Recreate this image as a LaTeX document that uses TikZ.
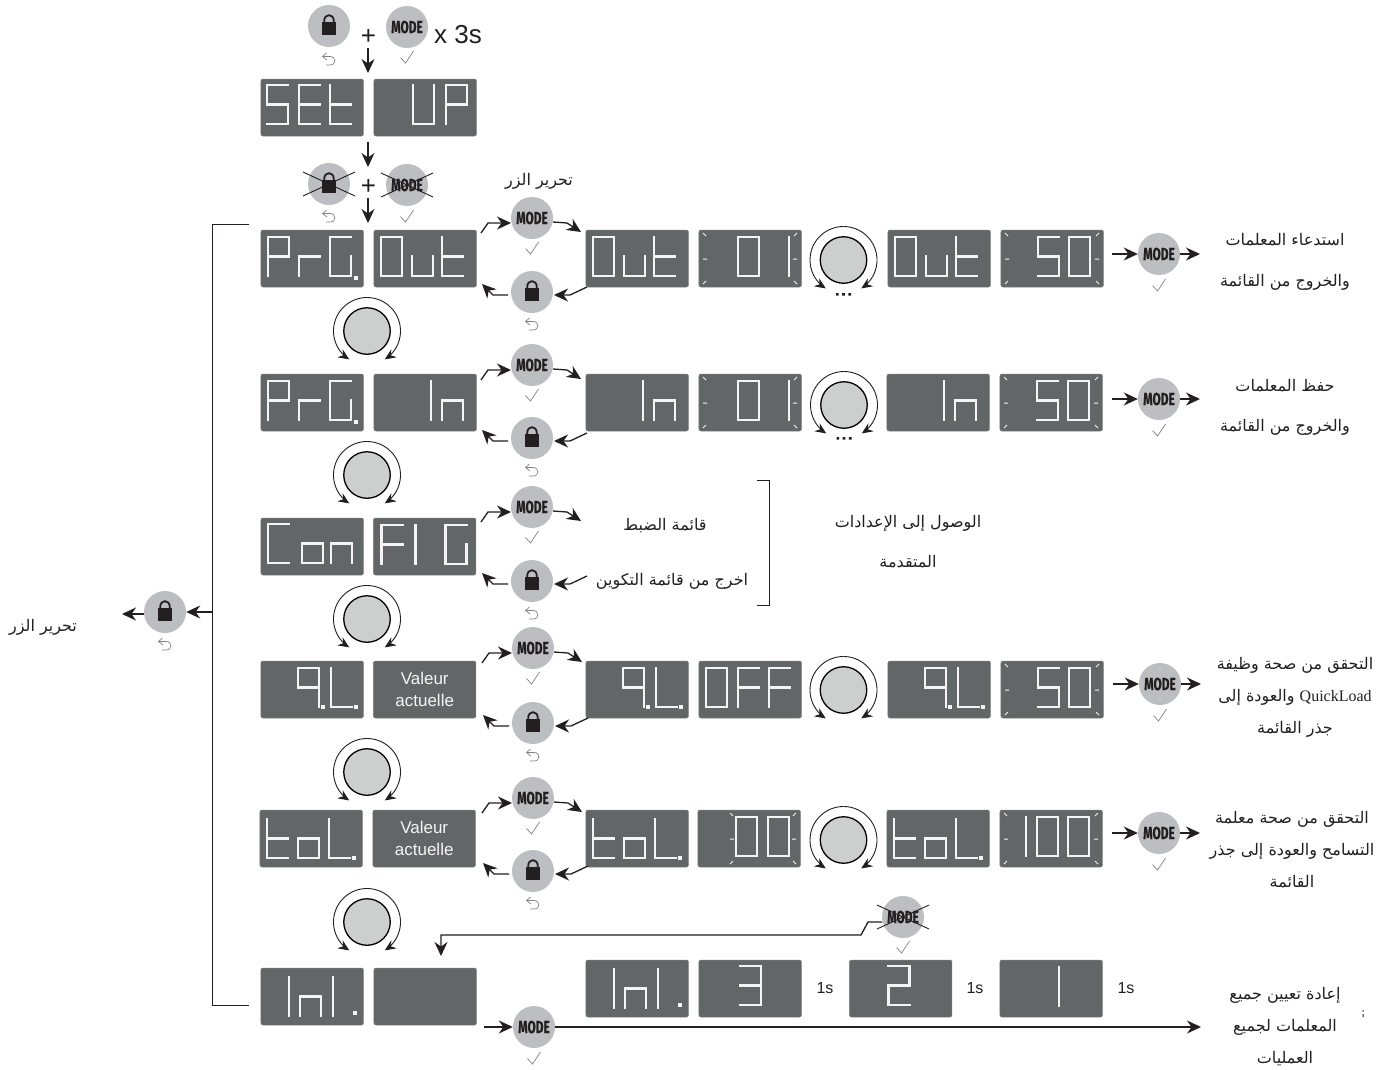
\documentclass[tikz,border=0pt]{standalone}
\usepackage{fontspec}
\usetikzlibrary{arrows.meta,calc}
\TeXXeTstate=1
\setmainfont{Liberation Sans}
\newfontfamily\arabicfont[Script=Arabic]{DejaVu Sans}
\newfontfamily\latinserif{Liberation Serif}
\newfontfamily\modefont[FakeStretch=0.68,FakeBold=0.6]{Fira Sans}
\definecolor{panelgray}{HTML}{636666}
\definecolor{btngray}{HTML}{BDBEC1}
\definecolor{knobgray}{HTML}{CDCFCE}
\definecolor{ink}{HTML}{231F20}
\definecolor{icongray}{HTML}{808285}
\definecolor{segwhite}{HTML}{F4F4F4}
\tikzset{
  x=1pt,y=-1pt,
  panelbox/.style={rectangle,rounded corners=2pt,fill=panelgray,draw=panelgray!85!white,line width=.5pt,minimum width=102.5pt,minimum height=57pt,inner sep=0pt},
  btn/.style={circle,fill=btngray,minimum size=42pt,inner sep=0pt,text=ink},
  modebtn/.style={btn,font={\modefont\bfseries\fontsize{17.5}{17.5}\selectfont}},
  lockbtn/.style={btn,path picture={
     \fill[ink,shift={(path picture bounding box.center)}] (-7,-4) rectangle (7,9);
     \draw[ink,line width=1.8pt,shift={(path picture bounding box.center)}] (-4.8,-3) -- (-4.8,-5) .. controls (-4.8,-12.8) and (4.8,-12.8) .. (4.8,-5) -- (4.8,-3);
  }},
  knobbtn/.style={circle,fill=knobgray,draw=black,line width=1.3pt,minimum size=46.5pt,inner sep=0pt},
  arr/.style={ink,line width=1.3pt,-{Stealth[length=14pt,width=13pt]}},
  knobarr/.style={ink,line width=.9pt,-{Stealth[length=11pt,width=9.5pt]}},
  plainline/.style={ink,line width=1pt},
  crossline/.style={ink,line width=.9pt},
  seg/.style={segwhite,line width=2.4pt,line cap=rect},
  tick/.style={segwhite,line width=1pt},
  arlabel/.style={align=center,text=ink,inner sep=0pt,font={\arabicfont\fontsize{16}{#1}\selectfont}},
  sanslabel/.style={text=ink,inner sep=0pt,font={\fontsize{#1}{#1}\selectfont}},
}
% seven segment pieces
\def\dgw{21}\def\dgh{39}
\def\segpart#1#2#3#4#5#6{\draw[seg] (#1+#3*\dgw,#2+#4*\dgh) -- (#1+#5*\dgw,#2+#6*\dgh);}
\def\sega#1#2{\segpart{#1}{#2}{0}{0}{1}{0}}
\def\segb#1#2{\segpart{#1}{#2}{1}{0}{1}{.5}}
\def\segc#1#2{\segpart{#1}{#2}{1}{.5}{1}{1}}
\def\segd#1#2{\segpart{#1}{#2}{0}{1}{1}{1}}
\def\sege#1#2{\segpart{#1}{#2}{0}{.5}{0}{1}}
\def\segf#1#2{\segpart{#1}{#2}{0}{0}{0}{.5}}
\def\segg#1#2{\segpart{#1}{#2}{0}{.5}{1}{.5}}
\newcommand\dg[3]{\foreach \sgn in {#3}{\csname seg\sgn\endcsname{#1}{#2}}}
\newcommand\dotmark[2]{\fill[segwhite] (#1,#2) rectangle (#1+3.6,#2+3.6);}
\newcommand\panel[3]{\node[panelbox] (#1) at (#2+51.2,#3+28.5) {};}
% words: arguments are the panel's left and top
\newcommand\wSEt[2]{\dg{#1+6}{#2+6}{a,f,g,c,d}\dg{#1+38}{#2+6}{a,f,g,e,d}\dg{#1+69}{#2+6}{f,e,d,g}}
\newcommand\wUP[2]{\dg{#1+39}{#2+6}{f,e,d,c,b}\dg{#1+72}{#2+6}{a,b,f,g,e}}
\newcommand\wPrG[2]{\dg{#1+7}{#2+7}{a,b,f,g,e}\dg{#1+38}{#2+7}{e,g}\dg{#1+69}{#2+7}{a,f,e,d,c}\dotmark{#1+93}{#2+46}}
\newcommand\wOut[2]{\dg{#1+7}{#2+7}{a,b,c,d,e,f}\dg{#1+38}{#2+7}{c,d,e}\dg{#1+68}{#2+7}{f,e,d,g}}
\newcommand\wIn[2]{\dg{#1+36}{#2+7}{b,c}\dg{#1+68}{#2+7}{e,g,c}}
\newcommand\wZeroOne[2]{\dg{#1+39}{#2+7}{a,b,c,d,e,f}\dg{#1+69}{#2+7}{b,c}}
\newcommand\wFifty[2]{\dg{#1+37}{#2+7}{a,f,g,c,d}\dg{#1+68}{#2+7}{a,b,c,d,e,f}}
\newcommand\wCon[2]{\dg{#1+7}{#2+6}{a,f,e,d}\dg{#1+41}{#2+6}{g,c,d,e}\dg{#1+70}{#2+6}{e,g,c}}
\newcommand\wFIG[2]{\dg{#1+8}{#2+7}{a,f,g,e}\dg{#1+21}{#2+7}{b,c}\dg{#1+72}{#2+7}{a,f,e,d,c}}
\newcommand\wNineL[2]{\dg{#1+37}{#2+7}{a,b,f,g,c}\dotmark{#1+60}{#2+44}\dg{#1+70}{#2+7}{f,e,d}\dotmark{#1+93}{#2+44}}
\newcommand\wOFF[2]{\dg{#1+7}{#2+7}{a,b,c,d,e,f}\dg{#1+39}{#2+7}{a,f,g,e}\dg{#1+70}{#2+7}{a,f,g,e}}
\newcommand\wtoL[2]{\dg{#1+7}{#2+9}{f,e,d,g}\dg{#1+38}{#2+9}{g,c,d,e}\dg{#1+69}{#2+9}{f,e,d}\dotmark{#1+92}{#2+46}}
\newcommand\wZZ[2]{\dg{#1+38}{#2+7}{a,b,c,d,e,f}\dg{#1+70}{#2+7}{a,b,c,d,e,f}}
\newcommand\wHundred[2]{\dg{#1+5}{#2+7}{b,c}\dg{#1+37}{#2+7}{a,b,c,d,e,f}\dg{#1+68}{#2+7}{a,b,c,d,e,f}}
\newcommand\wInl[2]{\dg{#1+7}{#2+9}{b,c}\dg{#1+39}{#2+9}{e,g,c}\dg{#1+72}{#2+9}{f,e}\dotmark{#1+92}{#2+43}}
\newcommand\halo[3]{%
  \draw[tick] (#1+4,#3+3)--(#1+7,#3+6) (#1+4,#3+29)--(#1+8,#3+29) (#1+4,#3+54)--(#1+7,#3+51);
  \draw[tick] (#2-4,#3+3)--(#2-7,#3+6) (#2-4,#3+29)--(#2-8,#3+29) (#2-4,#3+54)--(#2-7,#3+51);}
% icons under the buttons
\newcommand\checkicon[2]{\draw[icongray,line width=.7pt,shift={(#1,#2)}] (-6.5,.5) -- (-1.5,6) -- (6.5,-6);}
\newcommand\undoicon[2]{\draw[icongray,line width=.7pt,shift={(#1,#2)}] (-2.5,-6) -- (-6.5,-2.5) -- (-2,1) (-6.5,-2.5) -- (1,-2.5) .. controls (7.5,-2.5) and (7.5,6) .. (1,6) -- (-3,6);}
% knob with two arcs
\newcommand\knob[3]{%
  \node[knobbtn] (#1) at (#2,#3) {};
  \draw[knobarr] plot[domain=270:122,samples=30,smooth] ({#2+33.5*cos(\x)},{#3+33.5*sin(\x)});
  \draw[knobarr] plot[domain=-90:58,samples=30,smooth] ({#2+33.5*cos(\x)},{#3+33.5*sin(\x)});}
\newcommand\kdots[2]{\fill[ink] (#1-7.5,#2) rectangle ++(2.6,2.6) (#1-1.3,#2) rectangle ++(2.6,2.6) (#1+4.9,#2) rectangle ++(2.6,2.6);}
% mode + lock pair between panels
\newcommand\sidepair[4]{%
  \node[modebtn] (#1) at (#3,#4) {MODE};
  \checkicon{#3}{#4+30}}
\newcommand\sidelock[3]{%
  \node[lockbtn] (#1) at (#2,#3) {};
  \undoicon{#2}{#3+32}}
\newcommand\modeflow[1]{%
  \draw[arr] ([shift={(-51,15)}]#1.center) -- ([shift={(-44,5)}]#1.center) -- ([shift={(-21,5)}]#1.center);
  \draw[arr] ([shift={(21,4)}]#1.center) -- ([shift={(35,5)}]#1.center) -- ([shift={(49,14)}]#1.center);}
\newcommand\lockflow[1]{%
  \draw[arr] ([shift={(55,-5)}]#1.center) -- ([shift={(38,3)}]#1.center) -- ([shift={(22,3)}]#1.center);
  \draw[arr] ([shift={(-24,3)}]#1.center) -- ([shift={(-39,3)}]#1.center) -- ([shift={(-50,-8)}]#1.center);}
\newcommand\tailmode[4]{% name, x, y, panel
  \node[modebtn] (#1) at (#2,#3) {MODE};
  \checkicon{#2}{#3+31}
  \coordinate (#1in) at (#2-47,#3);
  \coordinate (#1out) at (#2+41,#3);
  \draw[arr] (#1in) -- (#1.west);
  \draw[arr] (#1.east) -- (#1out);}
\newcommand\ar[1]{\beginR #1\endR}
\begin{document}
\begin{tikzpicture}
\useasboundingbox (0,0) rectangle (1395,1069);
\fill[white] (0,0) rectangle (1395,1069);

% --- top
\node[lockbtn] (topL) at (329,26) {}; \undoicon{329}{59}
\node[modebtn] (topM) at (407,27) {MODE}; \checkicon{407}{57}
\node[sanslabel=26] (plusA) at (368.5,36.5) {+};
\node[sanslabel=26] (threeS) at (458,35) {x 3s};
\coordinate (a0s) at (368,48); \coordinate (a0e) at (368,73);
\draw[arr] (a0s) -- (a0e);

\panel{pSet}{261}{79} \panel{pUp}{374}{79}
\wSEt{261}{79} \wUP{374}{79}

\coordinate (a1s) at (368,142); \coordinate (a1e) at (368,167);
\draw[arr] (a1s) -- (a1e);

\node[lockbtn] (xL) at (329,184) {}; \undoicon{329}{216}
\node[modebtn] (xM) at (407,185) {MODE}; \checkicon{407}{216}
\draw[crossline] ([shift={(-26,12)}]xL.center) -- ([shift={(26,-12)}]xL.center);
\draw[crossline] ([shift={(-26,-12)}]xL.center) -- ([shift={(26,12)}]xL.center);
\draw[crossline] ([shift={(-26,12)}]xM.center) -- ([shift={(26,-12)}]xM.center);
\draw[crossline] ([shift={(-26,-12)}]xM.center) -- ([shift={(26,12)}]xM.center);
\node[sanslabel=26] (plusB) at (368.5,186.5) {+};
\coordinate (a2s) at (368,198); \coordinate (a2e) at (368,223);
\draw[arr] (a2s) -- (a2e);
\node[arlabel=16] (relTop) at (539,181) {\ar{تحرير الزر}};

% --- row 1 PrG Out
\panel{r1a}{261}{230} \panel{r1b}{374}{230} \panel{r1c}{586}{230} \panel{r1d}{699}{230} \panel{r1e}{888}{230} \panel{r1f}{1001}{230}
\wPrG{261}{230} \wOut{374}{230} \wOut{586}{230} \wZeroOne{699}{230} \wOut{888}{230} \wFifty{1001}{230}
\halo{699}{801}{230} \halo{1001}{1103}{230}
\sidepair{r1m}{}{532}{218} \sidelock{r1l}{532}{292}
\modeflow{r1m} \lockflow{r1l}
\knob{r1k}{843.5}{260}\kdots{843.5}{293}
\tailmode{r1x}{1159}{254}{r1f}
\node[arlabel=41] (r1t) at (1285,262) {\ar{استدعاء المعلمات}\\\ar{والخروج من القائمة}};

\knob{k1}{367}{331}

% --- row 2 PrG In
\panel{r2a}{261}{374} \panel{r2b}{374}{374} \panel{r2c}{586}{374} \panel{r2d}{699}{374} \panel{r2e}{887}{374} \panel{r2f}{1000}{374}
\wPrG{261}{374} \wIn{374}{374} \wIn{586}{374} \wZeroOne{699}{374} \wIn{887}{374} \wFifty{1000}{374}
\halo{699}{801}{374} \halo{1000}{1102}{374}
\sidepair{r2m}{}{532}{365} \sidelock{r2l}{532}{438}
\modeflow{r2m} \lockflow{r2l}
\knob{r2k}{844}{405}\kdots{844}{437}
\tailmode{r2x}{1159}{399}{r2f}
\node[arlabel=40] (r2t) at (1285,407) {\ar{حفظ المعلمات}\\\ar{والخروج من القائمة}};

\knob{k2}{367}{475}

% --- row 3 Con FIG
\panel{r3a}{261}{518} \panel{r3b}{373.5}{518}
\wCon{261}{518} \wFIG{373.5}{518}
\sidepair{r3m}{}{532}{507} \sidelock{r3l}{532}{581}
\modeflow{r3m} \lockflow{r3l}
\node[arlabel=16] (r3t1) at (665,526) {\ar{قائمة الضبط}};
\node[arlabel=16] (r3t2) at (672,581) {\ar{اخرج من قائمة التكوين}};
\coordinate (br1) at (757,480); \coordinate (br2) at (769,480); \coordinate (br3) at (769,605); \coordinate (br4) at (757,605);
\draw[plainline] (br1) -- (br2) -- (br3) -- (br4);
\node[arlabel=40] (r3t3) at (908,542) {\ar{الوصول إلى الإعدادات}\\\ar{المتقدمة}};

\knob{k3}{367}{619}

% --- row 4 9L
\panel{r4a}{261}{661} \panel{r4b}{373.5}{661} \panel{r4c}{586}{661} \panel{r4d}{699}{661} \panel{r4e}{888}{661} \panel{r4f}{1001}{661}
\wNineL{261}{661} \wNineL{586}{661} \wOFF{699}{661} \wNineL{888}{661} \wFifty{1001}{661}
\halo{1001}{1103}{661}
\node[align=center,text=segwhite,inner sep=0pt,font={\fontsize{17}{22}\selectfont}] (r4v) at (r4b) {Valeur\\actuelle};
\sidepair{r4m}{}{533}{648} \sidelock{r4l}{533}{723}
\modeflow{r4m} \lockflow{r4l}
\knob{r4k}{843.5}{690}
\tailmode{r4x}{1160}{684}{r4f}
\node[arlabel=32] (r4t) at (1295,697) {\ar{التحقق من صحة وظيفة}\\\ar{\beginL{\latinserif QuickLoad}\endL{} والعودة إلى}\\\ar{جذر القائمة}};

\knob{k4}{367}{772}

% --- row 5 toL
\panel{r5a}{260}{810} \panel{r5b}{373}{810} \panel{r5c}{586}{810} \panel{r5d}{698}{810} \panel{r5e}{887}{810} \panel{r5f}{1000}{810}
\wtoL{260}{810} \wtoL{586}{810} \wZZ{698}{810} \wtoL{887}{810} \wHundred{1000}{810}
\halo{698+28}{800}{810} \halo{1000}{1102}{810}
\node[align=center,text=segwhite,inner sep=0pt,font={\fontsize{17}{22}\selectfont}] (r5v) at (r5b) {Valeur\\actuelle};
\sidepair{r5m}{}{533}{798} \sidelock{r5l}{533}{871}
\modeflow{r5m} \lockflow{r5l}
\knob{r5k}{843.5}{840}
\tailmode{r5x}{1159}{833}{r5f}
\node[arlabel=32] (r5t) at (1292,850) {\ar{التحقق من صحة معلمة}\\\ar{التسامح والعودة إلى جذر}\\\ar{القائمة}};

\knob{k5}{367}{922}

% --- row 6 Inl
\panel{r6a}{261}{968} \panel{r6b}{374}{968}
\wInl{261}{968}
\panel{r6c}{586}{960} \panel{r6d}{699}{960} \panel{r6e}{849.5}{960} \panel{r6f}{1000}{960}
\wInl{586}{960}
\dg{699+41}{960+6}{a,b,g,c,d}
\dg{849.5+39}{960+6}{a,b,g,e,d}
\dg{1000+38}{960+7}{b,c}
\node[sanslabel=16] (s1) at (825,988) {1s};
\node[sanslabel=16] (s2) at (975,988) {1s};
\node[sanslabel=16] (s3) at (1126,988) {1s};

\node[modebtn] (crossM) at (903,917) {MODE}; \checkicon{903}{947}
\draw[crossline] ([shift={(-26,12)}]crossM.center) -- ([shift={(26,-12)}]crossM.center);
\draw[crossline] ([shift={(-26,-12)}]crossM.center) -- ([shift={(26,12)}]crossM.center);
\coordinate (bk1) at (868,922); \coordinate (bk2) at (861,935); \coordinate (bk3) at (441,935); \coordinate (bk4) at (441,956);
\draw[arr] ([shift={(-21,5)}]crossM.center) -- (bk1) -- (bk2) -- (bk3) -- (bk4);

\node[modebtn] (botM) at (534,1027) {MODE}; \checkicon{534}{1058}
\coordinate (bi) at (484,1027); \coordinate (bo) at (1201,1027);
\draw[arr] (bi) -- (botM.west);
\draw[arr] (botM.east) -- (bo);
\node[arlabel=32] (r6t) at (1285,1027) {\ar{إعادة تعيين جميع}\\\ar{المعلمات لجميع}\\\ar{العمليات}};
\fill[ink] (1362.5,1010) rectangle ++(1.2,1.6) (1362.5,1014) rectangle ++(1.2,3);

% --- left bracket
\coordinate (lb1) at (249,224); \coordinate (lb2) at (212,224); \coordinate (lb3) at (212,1005); \coordinate (lb4) at (249,1005);
\draw[plainline] (lb1) -- (lb2) -- (lb3) -- (lb4);
\node[lockbtn] (leftL) at (165,612) {}; \undoicon{165}{644}
\coordinate (lbm) at (212,612); \coordinate (lbo) at (122,614);
\draw[arr] (lbm) -- (leftL.east);
\draw[arr] (leftL.west |- lbo) -- (lbo);
\node[arlabel=16] (relLeft) at (43,627) {\ar{تحرير الزر}};
\end{tikzpicture}
\end{document}
